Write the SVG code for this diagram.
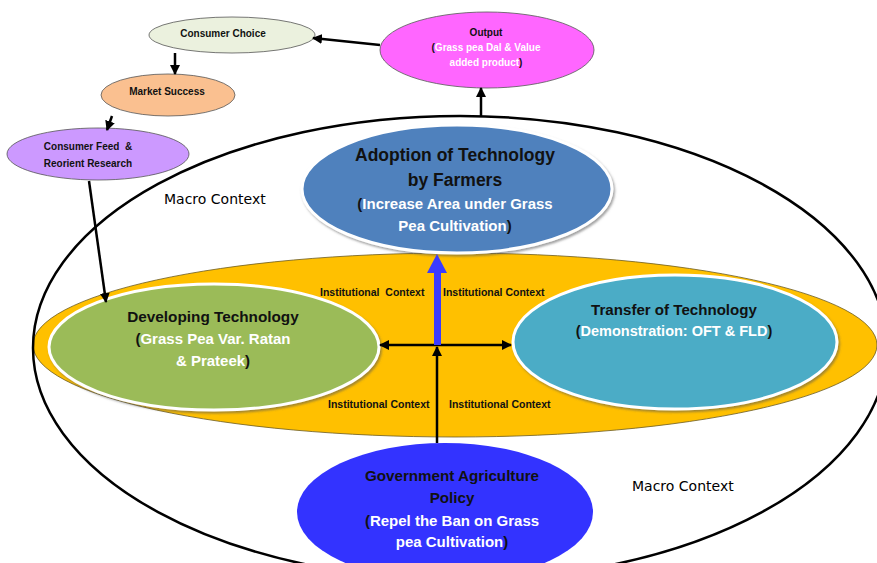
<svg xmlns="http://www.w3.org/2000/svg" width="877" height="563" viewBox="0 0 877 563">
  <defs>
    <marker id="arrow" viewBox="0 0 10 10" refX="9" refY="5" markerWidth="4" markerHeight="4" orient="auto-start-reverse" markerUnits="strokeWidth">
      <path d="M0,0 L10,5 L0,10 z" fill="#000"/>
    </marker>
    <filter id="shadow" x="-10%" y="-10%" width="120%" height="125%">
      <feDropShadow dx="1.5" dy="2" stdDeviation="1.2" flood-color="#555" flood-opacity="0.55"/>
    </filter>
  </defs>
  <style>
    text { font-family: "Liberation Sans", Arial, sans-serif; font-weight: bold; text-anchor: middle; fill: #111; white-space: pre; }
    .ctx { font-family: "DejaVu Sans", sans-serif; font-weight: normal; font-size: 14px; text-anchor: start; fill: #000; }
    .inst { font-size: 10.5px; text-anchor: start; }
    .small { font-size: 10px; }
    .w { fill: #fff; }
    .conn { stroke: #000; stroke-width: 2.5; fill: none; }
    .bordered { stroke: #fff; stroke-width: 3; filter: url(#shadow); }
    .thin { stroke: #555; stroke-width: 0.8; }
  </style>

  <rect width="877" height="563" fill="#fff"/>

  <!-- institutional band -->
  <g id="institutional-context">
    <ellipse cx="455" cy="345" rx="422" ry="92" fill="#FFC000" stroke="#6b5a20" stroke-width="0.8"/>
    <text class="inst" x="320" y="296" xml:space="preserve">Institutional  Context</text>
    <text class="inst" x="443" y="296">Institutional Context</text>
    <text class="inst" x="328" y="408">Institutional Context</text>
    <text class="inst" x="449" y="408">Institutional Context</text>
  </g>

  <!-- macro boundary -->
  <g id="macro-context">
    <ellipse cx="460" cy="348" rx="427" ry="232" fill="none" stroke="#000" stroke-width="2.5"/>
    <text class="ctx" x="164" y="204">Macro Context</text>
    <text class="ctx" x="632" y="491">Macro Context</text>
  </g>

  <g id="consumer-choice">
    <ellipse cx="232" cy="35" rx="83" ry="18" fill="#EBF1DE" class="thin"/>
    <text class="small" x="223" y="37">Consumer Choice</text>
  </g>

  <g id="market-success">
    <ellipse cx="168" cy="95" rx="67" ry="21" fill="#FAC090" class="thin"/>
    <text class="small" x="167" y="95">Market Success</text>
  </g>

  <g id="consumer-feed">
    <ellipse cx="98" cy="154" rx="91" ry="26" fill="#CC99FF" class="thin"/>
    <text class="small" x="88" y="150" xml:space="preserve">Consumer Feed  &amp;</text>
    <text class="small" x="88" y="167">Reorient Research</text>
  </g>

  <g id="output">
    <ellipse cx="487" cy="50" rx="107" ry="38" fill="#FF66FF" class="thin"/>
    <text class="small" x="486" y="36">Output</text>
    <text class="small" x="486" y="51">(<tspan class="w">Grass pea Dal &amp; Value</tspan></text>
    <text class="small" x="486" y="66"><tspan class="w">added product</tspan>)</text>
  </g>

  <g id="adoption">
    <ellipse cx="457" cy="189" rx="155" ry="64" fill="#4F81BD" class="bordered"/>
    <text x="455" y="161" font-size="17.5">Adoption of Technology</text>
    <text x="455" y="186" font-size="17.5">by Farmers</text>
    <text x="455" y="209" font-size="15">(<tspan class="w">Increase Area under Grass</tspan></text>
    <text x="455" y="231" font-size="15"><tspan class="w">Pea Cultivation</tspan>)</text>
  </g>

  <g id="developing">
    <ellipse cx="214" cy="347" rx="165" ry="63" fill="#9BBB59" class="bordered"/>
    <text x="213" y="322" font-size="15.3">Developing Technology</text>
    <text x="213" y="344" font-size="15">(<tspan class="w">Grass Pea Var. Ratan</tspan></text>
    <text x="213" y="366" font-size="15"><tspan class="w">&amp; Prateek</tspan>)</text>
  </g>

  <g id="transfer">
    <ellipse cx="675" cy="342" rx="162" ry="67" fill="#4BACC6" class="bordered"/>
    <text x="674" y="315" font-size="15.1">Transfer of Technology</text>
    <text x="674" y="336" font-size="14.5">(<tspan class="w">Demonstration: OFT &amp; FLD</tspan>)</text>
  </g>

  <g id="policy">
    <ellipse cx="445" cy="512" rx="148" ry="69" fill="#3333FF"/>
    <text x="452" y="481" font-size="15.2">Government Agriculture</text>
    <text x="452" y="503" font-size="15.2">Policy</text>
    <text x="452" y="526" font-size="15">(<tspan class="w">Repel the Ban on Grass</tspan></text>
    <text x="452" y="547" font-size="15"><tspan class="w">pea Cultivation</tspan>)</text>
  </g>

  <g id="connectors">
    <line class="conn" x1="380" y1="45" x2="313" y2="38" marker-end="url(#arrow)"/>
    <line class="conn" x1="175" y1="53" x2="175" y2="74" marker-end="url(#arrow)"/>
    <line class="conn" x1="112" y1="116" x2="107" y2="130" marker-end="url(#arrow)"/>
    <line class="conn" x1="89" y1="181" x2="106" y2="302" marker-end="url(#arrow)"/>
    <line class="conn" x1="481" y1="116" x2="481" y2="88" marker-end="url(#arrow)"/>
    <line class="conn" x1="380" y1="345" x2="511" y2="345" marker-start="url(#arrow)" marker-end="url(#arrow)"/>
    <line class="conn" x1="437" y1="443" x2="437" y2="347" marker-end="url(#arrow)"/>
    <rect x="434" y="272" width="7" height="73" fill="#3B3BFF"/>
    <polygon points="427,273 447,273 437,254" fill="#3B3BFF"/>
  </g>
</svg>
